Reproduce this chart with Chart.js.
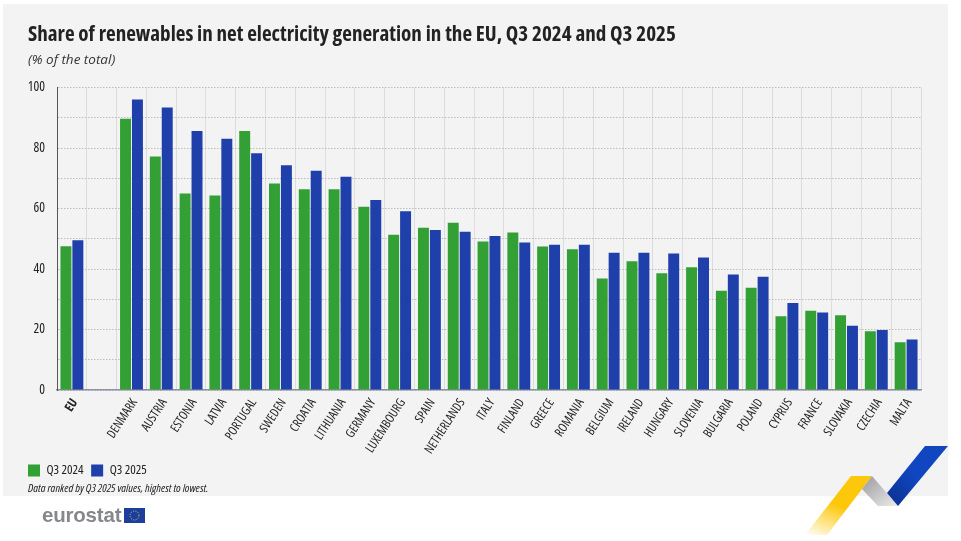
<!DOCTYPE html>
<html>
<head>
<meta charset="utf-8">
<title>Share of renewables</title>
<script src="https://cdn.jsdelivr.net/npm/chart.js@4"></script>
<style>
  body { margin: 0; background: #fff; overflow: hidden; }
  #panel { position: absolute; left: 3px; top: 4px; width: 945px; height: 492px; background: #f3f3f3; }
  #chart { position: absolute; left: 0; top: 0; }
  #note { position: absolute; left: 28px; top: 480px; font: italic 11.5px "Open Sans", sans-serif; font-stretch: 75%; color: #222; }
  #logo { position: absolute; left: 42px; top: 503px; font: bold 20.5px "Liberation Sans", sans-serif; color: #85878a; letter-spacing: -0.2px; }
  svg { position: absolute; left: 0; top: 0; }
</style>
</head>
<body>
<div id="panel"></div>
<svg width="961" height="541">
  <defs>
    <linearGradient id="fade" x1="0" y1="1" x2="0.5" y2="0">
      <stop offset="0" stop-color="#ffc800" stop-opacity="0"/>
      <stop offset="0.6" stop-color="#fdc70c"/>
    </linearGradient>
    <linearGradient id="grey" x1="0" y1="0" x2="1" y2="1">
      <stop offset="0" stop-color="#9a9a9e"/>
      <stop offset="1" stop-color="#ececec"/>
    </linearGradient>
    <linearGradient id="blue" x1="0" y1="1" x2="1" y2="0">
      <stop offset="0" stop-color="#0b2f8f"/>
      <stop offset="0.5" stop-color="#1047c0"/>
    </linearGradient>
  </defs>
  <polygon points="851,476 872,476 827,535 805,535" fill="url(#fade)"/>
  <polygon points="872,476 898,506 878,506 862,489" fill="url(#grey)"/>
  <polygon points="925,446 948,446 898,506 887,493" fill="url(#blue)"/>
  <rect x="124" y="508" width="21" height="15" fill="#1a3f9c"/>
  <circle cx="134.5" cy="515.5" r="4.5" fill="none" stroke="#e8c840" stroke-width="1" stroke-dasharray="1 1.4"/>
</svg>
<canvas id="chart" width="961" height="541"></canvas>
<div id="note">Data ranked by Q3 2025 values, highest to lowest.</div>
<div id="logo">eurostat</div>
<script>
const countries = ['EU', '', 'DENMARK', 'AUSTRIA', 'ESTONIA', 'LATVIA', 'PORTUGAL', 'SWEDEN', 'CROATIA', 'LITHUANIA', 'GERMANY', 'LUXEMBOURG', 'SPAIN', 'NETHERLANDS', 'ITALY', 'FINLAND', 'GREECE', 'ROMANIA', 'BELGIUM', 'IRELAND', 'HUNGARY', 'SLOVENIA', 'BULGARIA', 'POLAND', 'CYPRUS', 'FRANCE', 'SLOVAKIA', 'CZECHIA', 'MALTA'];
const q3_2024 = [47.5, null, 89.7, 77.2, 65.0, 64.3, 85.6, 68.3, 66.4, 66.4, 60.6, 51.3, 53.6, 55.3, 49.1, 52.1, 47.4, 46.5, 36.9, 42.6, 38.6, 40.6, 32.8, 33.8, 24.4, 26.2, 24.7, 19.4, 15.8];
const q3_2025 = [49.5, null, 96.0, 93.4, 85.6, 83.1, 78.3, 74.3, 72.5, 70.5, 62.8, 59.1, 52.9, 52.3, 50.9, 48.8, 48.0, 48.0, 45.4, 45.4, 45.1, 43.8, 38.2, 37.4, 28.8, 25.6, 21.2, 19.8, 16.7];

// Open Sans has a width axis, "condensed" in the font string gets close to the original face
const family = '"Open Sans", sans-serif';

const legendLeft = {
  id: 'legendLeft',
  afterLayout(chart) { chart.legend.left = 28 - chart.legend.options.labels.padding; }
};

new Chart(document.getElementById('chart'), {
  type: 'bar',
  plugins: [legendLeft],
  data: {
    labels: countries,
    datasets: [
      { label: 'Q3 2024', data: q3_2024, backgroundColor: '#32a035', categoryPercentage: 0.8, barPercentage: 0.92 },
      { label: 'Q3 2025', data: q3_2025, backgroundColor: '#1f40ab', categoryPercentage: 0.8, barPercentage: 0.92 }
    ]
  },
  options: {
    responsive: false,
    animation: false,
    layout: { padding: { left: 28, right: 40, top: 22, bottom: 54 } },
    plugins: {
      title: {
        display: true,
        text: 'Share of renewables in net electricity generation in the EU, Q3 2024 and Q3 2025',
        align: 'start',
        color: '#222',
        font: { family, size: 21.1, weight: '700 condensed' },
        padding: { top: 0, bottom: 5 }
      },
      subtitle: {
        display: true,
        text: '(% of the total)',
        align: 'start',
        color: '#333',
        font: { family, size: 13.5, style: 'italic', weight: '400' },
        padding: { top: 0, bottom: 19 }
      },
      legend: {
        position: 'bottom',
        align: 'start',
        labels: { boxWidth: 12, boxHeight: 12, padding: 7.5, color: '#222', font: { family, size: 13, weight: '400 condensed' } }
      },
      tooltip: { enabled: false }
    },
    scales: {
      x: {
        afterFit: scale => { scale.height = 66.5; },
        grid: { offset: true, color: '#dcdcdc', lineWidth: 1, drawTicks: false },
        border: { color: '#8d93a3', width: 1.5 },
        ticks: {
          autoSkip: false,
          maxRotation: 57,
          minRotation: 57,
          padding: 6,
          labelOffset: 3,
          color: '#222',
          font: ctx => ({ family, size: 12.5, weight: ctx.index === 0 ? '700 condensed' : '400 condensed' })
        }
      },
      y: {
        min: 0,
        max: 100,
        afterFit: scale => { scale.width = 29; },
        grid: { color: '#bdbdbd', lineWidth: 1, drawTicks: false },
        border: { color: '#555', width: 1, dash: [1.5, 1.5] },
        ticks: {
          stepSize: 10,
          padding: 12,
          color: '#222',
          font: { family, size: 13.5, weight: '400 condensed' },
          callback: v => (v % 20 === 0 ? v : '')
        }
      }
    }
  }
});
</script>
</body>
</html>
